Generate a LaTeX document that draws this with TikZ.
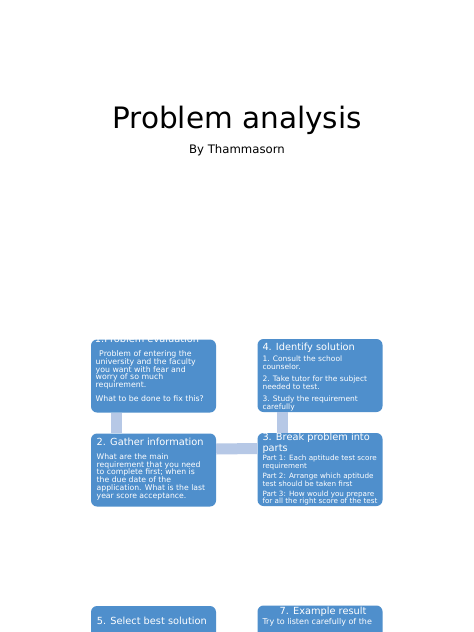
\documentclass[tikz,border=0pt]{standalone}
\usepackage{fontspec}
\setmainfont{DejaVu Sans}
\definecolor{boxblue}{RGB}{79,143,204}
\definecolor{barblue}{RGB}{182,200,230}
\tikzset{
  box/.style={fill=boxblue, draw=none, rounded corners=6pt, minimum width=125pt, minimum height=73pt, inner sep=0pt},
  bar/.style={draw=barblue, line width=11pt, line cap=butt},
  ttl/.style={text=white, inner sep=0pt, font=\fontsize{9.8}{11.7}\selectfont},
  body/.style={text=white, inner sep=0pt, align=left, anchor=north west, font=\fontsize{7.7}{7.7}\selectfont},
}
\begin{document}
\begin{tikzpicture}[x=1pt,y=-1pt]
\useasboundingbox (0,0) rectangle (474,632);
\clip (0,0) rectangle (474,632);
\fill[white] (0,0) rectangle (474,632);
% title
\node[inner sep=0pt, anchor=base, font=\fontsize{29.5}{30}\selectfont] (title) at (237,128.5) {Problem analysis};
\node[inner sep=0pt, anchor=base, font=\fontsize{11.7}{12}\selectfont] (author) at (237,153.5) {By Thammasorn};
% boxes
\node[box] (b1) at (153.5,376) {};
\node[box] (b4) at (320,375.5) {};
\node[box] (b2) at (153.5,470) {};
\node[box] (b3) at (320,469.5) {};
\node[box, minimum height=80pt] (b5) at (153.5,646) {};
\node[box, minimum height=80pt] (b7) at (320,645.5) {};
% connectors
\draw[bar] ([xshift=-37pt]b1.south) -- ([xshift=-37pt]b2.north);
\draw[bar] ([xshift=-37.5pt]b4.south) -- ([xshift=-37.5pt]b3.north);
\draw[bar] ([yshift=21pt]b2.east) -- ([yshift=21pt]b3.west);
% box 1
\node[ttl, anchor=base] (t1) at (147,342.7) {1.Problem evaluation};
\node[body, font=\fontsize{7.8}{7.6}\selectfont] (x1) at (95.5,350.8) {\hspace*{3.5pt}Problem of entering the\\university and the faculty\\you want with fear and\\worry of so much\\requirement.\\[7pt]What to be done to fix this?};
% box 4
\node[ttl, anchor=base west] (t4) at (262.3,350) {4. Identify solution};
\node[body, font=\fontsize{7.5}{7.9}\selectfont] (x4) at (262.3,356) {1. Consult the school\\counselor.\\[3.8pt]2. Take tutor for the subject\\needed to test.\\[3.8pt]3. Study the requirement\\carefully};
% box 2
\node[ttl, anchor=base west] (t2) at (96.5,445.7) {2. Gather information};
\node[body] (x2) at (96.5,453.5) {What are the main\\requirement that you need\\to complete first; when is\\the due date of the\\application. What is the last\\year score acceptance.};
% box 3
\node[ttl, anchor=base west] (t3) at (262.3,440) {3. Break problem into};
\node[ttl, anchor=base west] (t3b) at (262.3,451.7) {parts};
\node[body, font=\fontsize{7.2}{7.7}\selectfont] (x3) at (262.3,455.2) {Part 1: Each aptitude test score\\requirement\\[2.3pt]Part 2: Arrange which aptitude\\test should be taken first\\[2.3pt]Part 3: How would you prepare\\for all the right score of the test};
% box 5
\node[ttl, anchor=base west] (t5) at (96.7,624) {5. Select best solution};
% box 7
\node[ttl, anchor=base] (t7) at (323,614.3) {7. Example result};
\node[body, font=\fontsize{8}{8}\selectfont] (x7) at (262.3,618.2) {Try to listen carefully of the};
\end{tikzpicture}
\end{document}
